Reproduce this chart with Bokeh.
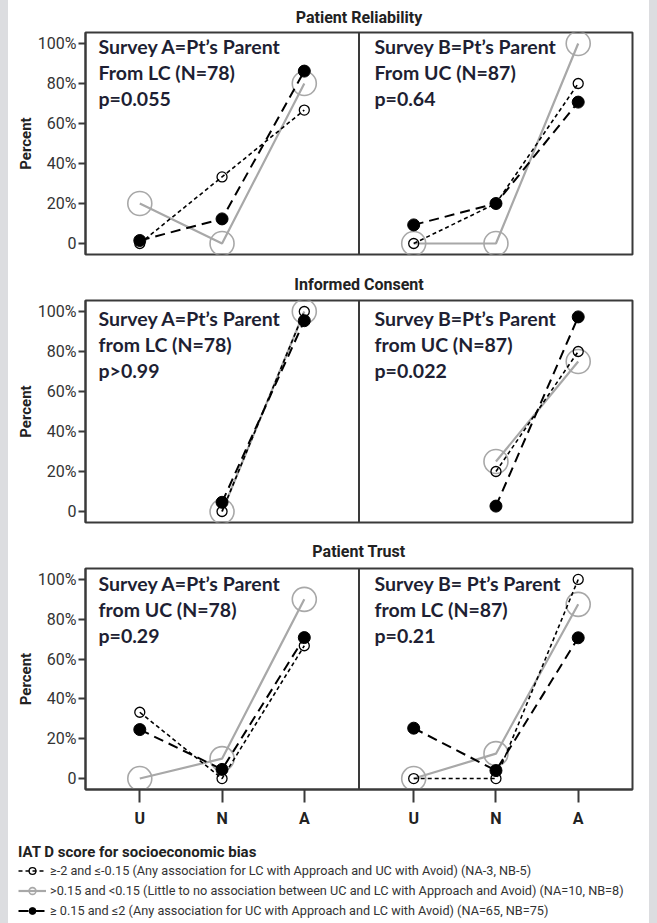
from bokeh.plotting import figure
from bokeh.models import FactorRange, Range1d, FixedTicker, Span, Label, Legend, LegendItem
from bokeh.layouts import column
from bokeh.embed import file_html
from bokeh.resources import INLINE

nan = float("nan")

# ---------------- data ----------------
categories = ["U", "N", "A"]
surveys = ["Survey A", "Survey B"]
row_titles = ["Patient Reliability", "Informed Consent", "Patient Trust"]
y_ticks = [0, 20, 40, 60, 80, 100]
y_tick_labels = ["0", "20%", "40%", "60%", "80%", "100%"]

# each: [Survey A values, Survey B values] for U, N, A
reliability_neg = [[0.0, 33.3, 66.7], [0.0, 20.0, 80.0]]
reliability_neu = [[20.0, 0.0, 80.0], [0.0, 0.0, 100.0]]
reliability_pos = [[1.5, 12.3, 86.2], [9.3, 20.0, 70.7]]

consent_neg = [[nan, 0.0, 100.0], [nan, 20.0, 80.0]]
consent_neu = [[nan, 0.0, 100.0], [nan, 25.0, 75.0]]
consent_pos = [[nan, 4.6, 95.4], [nan, 2.7, 97.3]]

trust_neg = [[33.3, 0.0, 66.7], [0.0, 0.0, 100.0]]
trust_neu = [[0.0, 10.0, 90.0], [0.0, 12.5, 87.5]]
trust_pos = [[24.6, 4.6, 70.8], [25.3, 4.0, 70.7]]

reliability_notes = [["Survey A=Pt\u2019s Parent", "From LC (N=78)", "p=0.055"],
                     ["Survey B=Pt\u2019s Parent", "From UC (N=87)", "p=0.64"]]
consent_notes = [["Survey A=Pt\u2019s Parent", "from LC (N=78)", "p>0.99"],
                 ["Survey B=Pt\u2019s Parent", "from UC (N=87)", "p=0.022"]]
trust_notes = [["Survey A=Pt\u2019s Parent", "from UC (N=78)", "p=0.29"],
               ["Survey B= Pt\u2019s Parent", "from LC (N=87)", "p=0.21"]]

legend_title = "IAT D score for socioeconomic bias"
legend_labels = [
    "\u2265-2 and \u2264-0.15 (Any association for LC with Approach and UC with Avoid) (NA-3, NB-5)",
    ">0.15 and <0.15 (Little to no association between UC and LC with Approach and Avoid) (NA=10, NB=8)",
    "\u2265 0.15 and \u22642 (Any association for UC with Approach and LC with Avoid) (NA=65, NB=75)",
]

# ---------------- styles ----------------
FONT = "Roboto"
NOTE_FONT = "Lato"
NOTE_COLOR = "#1e1f33"
FRAME = "#3a3a3a"
GREY = "#a8a8a8"
W = 649
GROUP_PAD = 0.33

STYLES = {
    "neg": dict(line_color="black", line_width=1.6, line_dash="4 3",
                marker="circle", size=10, m_line="black", m_fill=None, m_lw=1.3),
    "neu": dict(line_color=GREY, line_width=2.2, line_dash="solid",
                marker="circle", size=24, m_line=GREY, m_fill=None, m_lw=1.6),
    "pos": dict(line_color="black", line_width=2, line_dash="10 6",
                marker="circle", size=12, m_line="black", m_fill="black", m_lw=1),
}


def make_row(title, neg, neu, pos, notes, note_top, top, bottom, title_gap, show_x):
    height = top + 222 + bottom
    xr = FactorRange(factors=[(s, c) for s in surveys for c in categories],
                     group_padding=GROUP_PAD, range_padding=0.16,
                     range_padding_units="absolute")
    p = figure(width=W, height=height, x_range=xr, y_range=Range1d(-5.5, 105.5),
               output_backend="svg", toolbar_location=None,
               min_border_left=85, min_border_right=17, min_border_top=top,
               min_border_bottom=bottom, title=title)
    p.background_fill_color = "white"
    p.border_fill_color = None
    p.outline_line_color = FRAME
    p.outline_line_width = 2
    p.xgrid.visible = False
    p.ygrid.visible = False

    p.title.align = "center"
    p.title.text_font = FONT
    p.title.text_font_size = "16px"
    p.title.text_font_style = "bold"
    p.title.text_color = "#222222"
    p.title.standoff = title_gap

    ya = p.yaxis[0]
    ya.ticker = FixedTicker(ticks=y_ticks)
    ya.major_label_overrides = {t: l for t, l in zip(y_ticks, y_tick_labels)}
    ya.major_label_text_font = FONT
    ya.major_label_text_font_size = "16px"
    ya.major_label_text_color = "#333333"
    ya.major_tick_out = 7
    ya.major_tick_in = 0
    ya.major_tick_line_width = 2
    ya.major_tick_line_color = FRAME
    ya.minor_tick_line_color = None
    ya.axis_line_color = FRAME
    ya.axis_line_width = 2
    ya.major_label_standoff = 2
    ya.axis_label = "Percent"
    ya.axis_label_text_font = FONT
    ya.axis_label_text_font_size = "15px"
    ya.axis_label_text_font_style = "bold"
    ya.axis_label_text_color = "#222222"
    ya.axis_label_standoff = 0

    xa = p.xaxis[0]
    if show_x:
        xa.major_label_text_font = FONT
        xa.major_label_text_font_size = "16px"
        xa.major_label_text_font_style = "bold"
        xa.major_label_text_color = "#222222"
        xa.major_tick_out = 13
        xa.major_tick_in = 0
        xa.major_tick_line_width = 2
        xa.major_tick_line_color = FRAME
        xa.axis_line_color = FRAME
        xa.axis_line_width = 2
        xa.major_label_standoff = 6
        xa.group_text_font_size = "0px"
        xa.group_text_color = None
        xa.separator_line_color = None
    else:
        xa.visible = False

    p.add_layout(Span(location=len(categories) + GROUP_PAD / 2, dimension="height",
                      line_color=FRAME, line_width=2))

    for si, s in enumerate(surveys):
        xs = [(s, c) for c in categories]
        for key, vals in (("neu", neu), ("neg", neg), ("pos", pos)):
            st = STYLES[key]
            p.line(xs, vals[si], line_color=st["line_color"], line_width=st["line_width"],
                   line_dash=st["line_dash"])
            p.scatter(xs, vals[si], marker=st["marker"], size=st["size"],
                      line_color=st["m_line"], fill_color=st["m_fill"],
                      line_width=st["m_lw"])
        xoff = 13 if si == 0 else 289
        for li, txt in enumerate(notes[si]):
            p.add_layout(Label(x=xoff, y=105.5 - note_top / 2 - li * 13,
                               x_units="screen", y_units="data", text=txt,
                               text_font=NOTE_FONT, text_font_size="19.5px",
                               text_font_style="bold", text_color=NOTE_COLOR,
                               text_baseline="middle"))
    return p


p1 = make_row(row_titles[0], reliability_neg, reliability_neu, reliability_pos,
              reliability_notes, 14, 32, 12, 11, False)
p2 = make_row(row_titles[1], consent_neg, consent_neu, consent_pos,
              consent_notes, 18, 34, 9, 13, False)
p3 = make_row(row_titles[2], trust_neg, trust_neu, trust_pos,
              trust_notes, 15, 37, 40, 16, True)

# ---------------- legend panel (own root, so its frame is not aligned) ----------------
pl = figure(width=W, height=90, x_range=Range1d(0, 1), y_range=Range1d(0, 1),
            x_axis_type=None, y_axis_type=None, output_backend="svg",
            toolbar_location=None, min_border_left=0, min_border_right=0,
            min_border_top=0, min_border_bottom=0)
pl.outline_line_color = None
pl.background_fill_color = None
pl.border_fill_color = None
pl.xgrid.visible = False
pl.ygrid.visible = False
items = []
for key, lab in zip(("neg", "neu", "pos"), legend_labels):
    st = STYLES[key]
    r1 = pl.line([nan], [nan], line_color=st["line_color"], line_width=st["line_width"],
                 line_dash=st["line_dash"])
    r2 = pl.scatter([nan], [nan], marker=st["marker"], size=st["size"],
                    line_color=st["m_line"], fill_color=st["m_fill"], line_width=st["m_lw"])
    items.append(LegendItem(label=lab, renderers=[r1, r2]))
leg = Legend(items=items, location=(18, 1), title=legend_title,
             title_text_font=FONT, title_text_font_size="15px",
             title_text_font_style="bold", title_text_color="#222222",
             label_text_font=FONT, label_text_font_size="12.7px",
             label_text_color="#333333", border_line_color=None,
             background_fill_alpha=0, padding=0, margin=0, spacing=3,
             glyph_width=28, glyph_height=17, label_height=17,
             label_standoff=4, title_standoff=1)
pl.add_layout(leg)

layout = column(p1, p2, p3, spacing=0)

html = file_html([layout, pl], INLINE)
html = html.replace("</head>", "<style>html{background:linear-gradient(90deg,#dcdde0 8px,#ffffff 8px,#ffffff 649px,#dcdde0 649px);}</style></head>", 1)
open("out.html", "w").write(html)
